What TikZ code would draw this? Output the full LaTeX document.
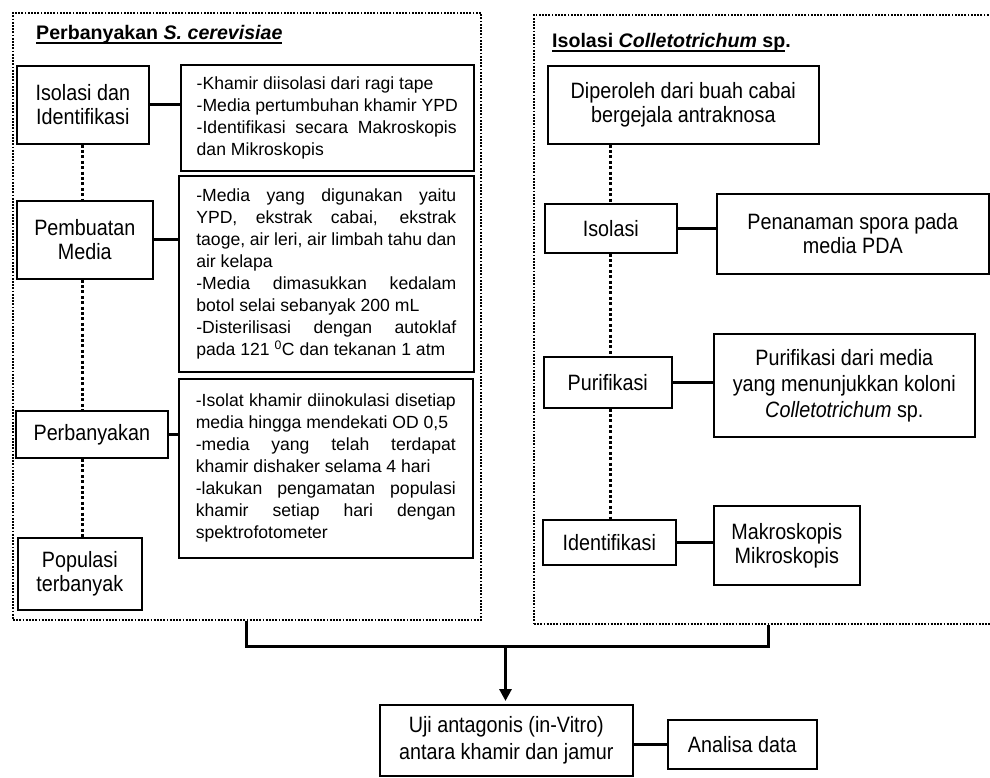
\documentclass[tikz,border=0pt]{standalone}
\usepackage{fontspec}
\setmainfont{Liberation Sans}
\newfontfamily\tallfont{Liberation Sans}[FakeStretch=0.89]
\usetikzlibrary{positioning, arrows.meta}

\newcommand{\fullline}[1]{\makebox[260pt][s]{#1}}
\newcommand{\titleul}[1]{\leavevmode\setbox0\hbox{#1}\rlap{\rule[-4pt]{\wd0}{1.6pt}}\box0}

\begin{document}
\begin{tikzpicture}[
			x=1pt, y=-1pt,
			nodes = {
				align = center,
				inner sep = 0pt
			},
			block/.style={
				draw,
				rectangle,
				line width=1.6pt,
				anchor=north west,
				font=\tallfont\fontsize{22.2}{24}\selectfont
			},
			note/.style={
				block,
				align=left,
				font=\normalfont\fontsize{17.6}{22}\selectfont
			},
			frame/.style={
				draw,
				rectangle,
				anchor=north west,
				line width=1.8pt,
				dash pattern=on 1.8pt off 1.4pt
			},
			title/.style={
				anchor=base west,
				font=\bfseries\fontsize{19.6}{24}\selectfont
			},
			lines/.style={
				line width=3pt,
				>={Triangle[length=12pt,width=12pt]}
			},
			dots/.style={
				line width=2.8pt,
				dash pattern=on 3pt off 2.4pt
			}
		]
			\useasboundingbox (0,0) rectangle (990,778);
			\clip (0,0) rectangle (990,778);

			% the two dotted frames
			\node[frame,minimum width=468pt,minimum height=607pt] (lframe) at (12,12) {};
			\node[frame,minimum width=470pt,minimum height=609pt] (rframe) at (533,14) {};

			\node[title] (ltitle) at (36,40) {\titleul{Perbanyakan \textit{S. cerevisiae}}};
			\node[title] (rtitle) at (552,48) {\titleul{Isolasi \textit{Colletotrichum} sp}.};

			% left column
			\node[block,minimum width=132pt,minimum height=78pt] (isoid) at (16,65) {
				Isolasi dan\\
				Identifikasi
			};

			\node[note,minimum width=293pt,minimum height=106pt] (isonote) at (180,64) {
				-Khamir diisolasi dari ragi tape\\
				-Media pertumbuhan khamir YPD\\
				\fullline{-Identifikasi secara Makroskopis}\\
				dan Mikroskopis
			};

			\node[block,minimum width=136pt,minimum height=78pt] (media) at (16,200) {
				Pembuatan\\
				Media
			};

			\node[note,minimum width=295pt,minimum height=196pt] (medianote) at (178,175) {
				\fullline{-Media yang digunakan yaitu}\\
				\fullline{YPD, ekstrak cabai, ekstrak}\\
				\fullline{taoge, air leri, air limbah tahu dan}\\
				air kelapa\\
				\fullline{-Media dimasukkan kedalam}\\
				botol selai sebanyak 200 mL\\
				\fullline{-Disterilisasi dengan autoklaf}\\
				pada 121 \textsuperscript{0}C dan tekanan 1 atm
			};

			\node[block,minimum width=152pt,minimum height=47pt] (perb) at (15,410) {Perbanyakan};

			\node[note,minimum width=294pt,minimum height=179pt] (perbnote) at (178,378) {
				\fullline{-Isolat khamir diinokulasi disetiap}\\
				media hingga mendekati OD 0,5\\
				\fullline{-media yang telah terdapat}\\
				khamir dishaker selama 4 hari\\
				\fullline{-lakukan pengamatan populasi}\\
				\fullline{khamir setiap hari dengan}\\
				spektrofotometer
			};

			\node[block,minimum width=124pt,minimum height=72pt] (pop) at (17,537) {
				Populasi\\
				terbanyak
			};

			% right column
			\node[block,minimum width=271pt,minimum height=78pt] (asal) at (547,65) {
				Diperoleh dari buah cabai\\
				bergejala antraknosa
			};

			\node[block,minimum width=132pt,minimum height=49pt] (isol) at (544,203) {Isolasi};

			\node[block,minimum width=272pt,minimum height=80pt] (tanam) at (716,193) {
				Penanaman spora pada\\
				media PDA
			};

			\node[block,minimum width=128pt,minimum height=51pt] (puri) at (543,356) {Purifikasi};

			\node[block,minimum width=261pt,minimum height=103pt,
				font=\tallfont\fontsize{22.2}{26}\selectfont] (purinote) at (713,333) {
				Purifikasi dari media\\
				yang menunjukkan koloni\\
				\textit{Colletotrichum} sp.
			};

			\node[block,minimum width=133pt,minimum height=45pt] (ident) at (542,519) {Identifikasi};

			\node[block,minimum width=146pt,minimum height=79pt] (makro) at (713,505) {
				Makroskopis\\
				Mikroskopis
			};

			% bottom
			\node[block,minimum width=253pt,minimum height=71pt,
				font=\tallfont\fontsize{22.2}{27}\selectfont] (uji) at (379,704) {
				Uji antagonis (in-Vitro)\\
				antara khamir dan jamur
			};

			\node[block,minimum width=149pt,minimum height=49pt] (analisa) at (667,719) {Analisa data};

			\coordinate (join) at (505.5,646);

			\draw[lines] (isoid.east) -- (isoid.east -| isonote.west);
			\draw[lines] (media.east) -- (media.east -| medianote.west);
			\draw[lines] (perb.east) -- (perb.east -| perbnote.west);
			\draw[lines] (isol.east) -- (isol.east -| tanam.west);
			\draw[lines] (puri.east) -- (puri.east -| purinote.west);
			\draw[lines] (ident.east) -- (ident.east -| makro.west);
			\draw[lines] (analisa.west -| uji.east) -- (analisa.west);

			\draw[dots] (isoid.south) -- (isoid.south |- media.north);
			\draw[dots] (media.south -| isoid.south) -- (perb.north -| isoid.south);
			\draw[dots] (perb.south -| isoid.south) -- (pop.north -| isoid.south);
			\draw[dots] (asal.south -| isol.north) -- (isol.north);
			\draw[dots] (isol.south) -- (puri.north -| isol.south);
			\draw[dots] (puri.south -| isol.south) -- (ident.north -| isol.south);

			\draw[lines] (lframe.south) -- (lframe.south |- join) -- (rframe.south |- join) -- (rframe.south);
			\draw[lines,->,shorten >=3pt] (join) -- (join |- uji.north);
		\end{tikzpicture}
\end{document}
